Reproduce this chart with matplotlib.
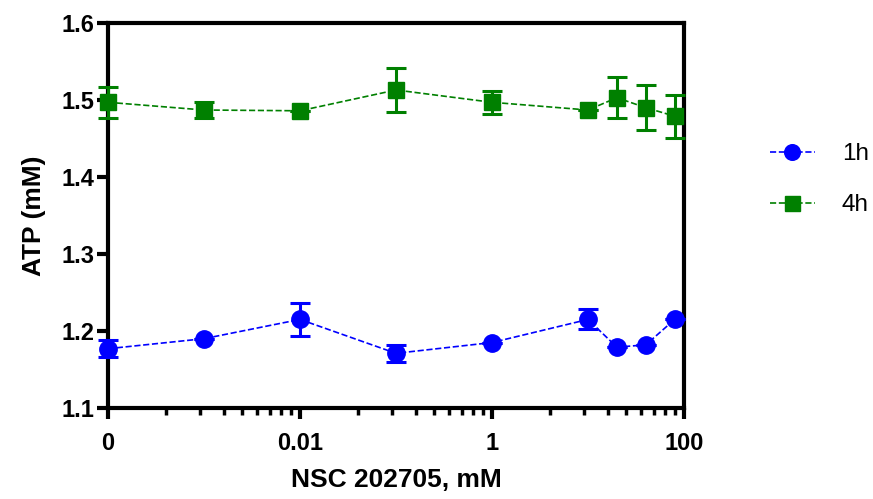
import matplotlib
matplotlib.use("Agg")
import matplotlib.pyplot as plt
import numpy as np

plt.rcParams['font.family'] = ['Liberation Sans', 'DejaVu Sans']

# dose (mM); the "0" dose is drawn at 1e-4 on the log axis
conc = [1e-4, 1e-3, 1e-2, 1e-1, 1, 10, 20, 40, 80]

atp_1h = [1.177, 1.190, 1.215, 1.171, 1.185, 1.215, 1.179, 1.182, 1.215]
err_1h = [0.011, 0.0, 0.021, 0.011, 0.0, 0.013, 0.0, 0.0, 0.0]

atp_4h = [1.497, 1.487, 1.486, 1.513, 1.497, 1.487, 1.503, 1.490, 1.479]
err_4h = [0.020, 0.010, 0.0, 0.029, 0.015, 0.0, 0.027, 0.029, 0.028]

major_ticks = [1e-4, 1e-2, 1, 100]
major_labels = ["0", "0.01", "1", "100"]
y_ticks = [1.1, 1.2, 1.3, 1.4, 1.5, 1.6]

fig = plt.figure(figsize=(8.73, 4.99), dpi=100)
ax = fig.add_axes([0.1237, 0.1824, 0.6598, 0.7715])

ax.errorbar(conc, atp_1h, yerr=err_1h, color='#0000FF', ls='--', lw=1.2,
            marker='o', ms=12.5, elinewidth=2.2, capsize=7, capthick=2.2,
            label='1h', clip_on=False, zorder=3)
ax.errorbar(conc, atp_4h, yerr=err_4h, color='#008000', ls='--', lw=1.2,
            marker='s', ms=12, elinewidth=2.2, capsize=7, capthick=2.2,
            label='4h', clip_on=False, zorder=3)

ax.set_xscale('log')
ax.set_xlim(1e-4, 100)
ax.set_ylim(1.1, 1.6)

# GraphPad-style minor ticks: 2..9 spread across each two-decade interval
minor = []
for m in major_ticks[:-1]:
    for k in range(2, 10):
        minor.append(m * k ** 2)
ax.set_xticks(major_ticks)
ax.set_xticklabels(major_labels)
ax.set_xticks(minor, minor=True)
ax.set_yticks(y_ticks)
ax.set_yticklabels([f"{v:.1f}" for v in y_ticks])

for s in ax.spines.values():
    s.set_linewidth(3)
ax.tick_params(axis='both', which='major', direction='out', length=8, width=3,
               labelsize=17, pad=2)
ax.tick_params(axis='x', which='minor', direction='out', length=5, width=2.5)
ax.tick_params(axis='x', which='major', pad=9)
for lab in ax.get_xticklabels() + ax.get_yticklabels():
    lab.set_fontweight('bold')

ax.set_xlabel('NSC 202705, mM', fontsize=19, fontweight='bold', labelpad=10)
ax.set_ylabel('ATP (mM)', fontsize=19, fontweight='bold', labelpad=11)

handles, labels = ax.get_legend_handles_labels()
handles = [h[0] for h in handles]
leg = fig.legend(handles, labels, loc='upper left', bbox_to_anchor=(0.882, 0.713),
                 frameon=False, fontsize=17.5, handlelength=1.85, handletextpad=1.1,
                 labelspacing=1.2, borderpad=0, borderaxespad=0, markerscale=0.9)

fig.savefig('out.png', dpi=100)
